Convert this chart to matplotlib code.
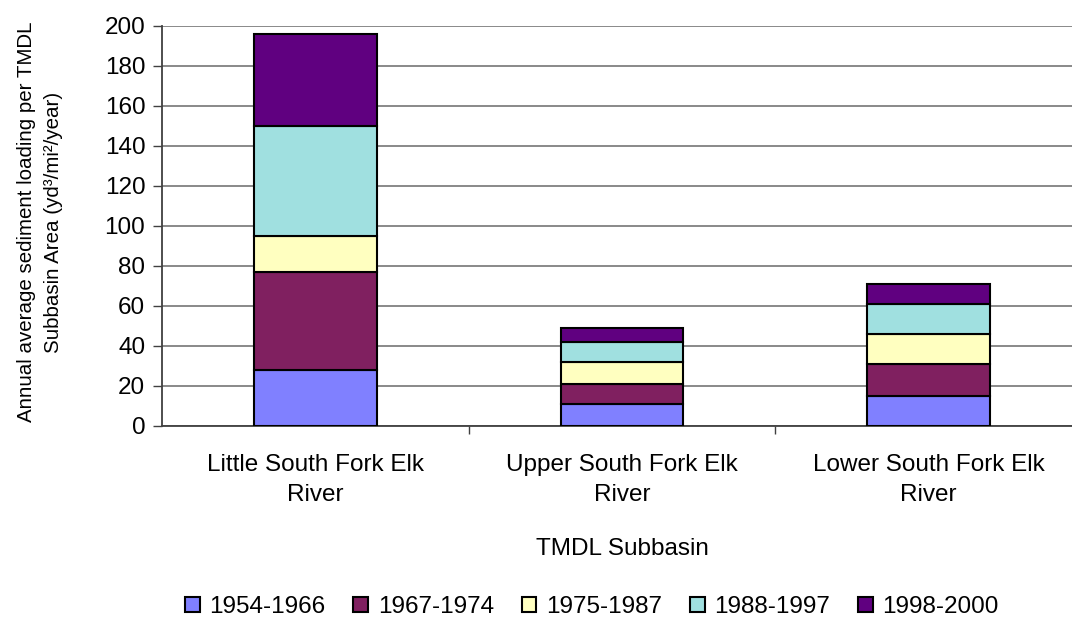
import matplotlib
matplotlib.use("Agg")
import matplotlib.pyplot as plt
import numpy as np

plt.rcParams['font.family'] = ['Liberation Sans', 'DejaVu Sans']

categories = ["Little South Fork Elk\nRiver", "Upper South Fork Elk\nRiver", "Lower South Fork Elk\nRiver"]
periods = ["1954-1966", "1967-1974", "1975-1987", "1988-1997", "1998-2000"]
load_1954_1966 = [28, 11, 15]
load_1967_1974 = [49, 10, 16]
load_1975_1987 = [18, 11, 15]
load_1988_1997 = [55, 10, 15]
load_1998_2000 = [46, 7, 10]
series = [load_1954_1966, load_1967_1974, load_1975_1987, load_1988_1997, load_1998_2000]
colors = ["#8080FF", "#802060", "#FFFFC0", "#A0E0E0", "#600080"]
yticks = [0, 20, 40, 60, 80, 100, 120, 140, 160, 180, 200]

W, H = 1072, 619
fig = plt.figure(figsize=(W / 100, H / 100), dpi=100)
ax = fig.add_axes([162 / W, 1 - 426 / H, (1082 - 162) / W, 400 / H])

x = np.arange(len(categories))
bottom = np.zeros(len(categories))
handles = []
for vals, col, lab in zip(series, colors, periods):
    h = ax.bar(x, vals, width=0.4, bottom=bottom, color=col, edgecolor="black",
               linewidth=1.5, label=lab, zorder=3)
    handles.append(h)
    bottom += np.array(vals)

ax.set_xlim(-0.5, len(categories) - 0.5)
ax.set_ylim(0, 200)
ax.set_yticks(yticks)
ax.yaxis.grid(True, color="#808080", linewidth=1.3, zorder=0)
ax.set_axisbelow(True)

ax.set_xticks(x)
ax.set_xticklabels(categories, fontsize=17.5, linespacing=1.5)
ax.set_xticks([0.5, 1.5], minor=True)
ax.tick_params(axis="x", which="major", length=0, pad=20)
ax.tick_params(axis="x", which="minor", length=6, width=1, color="#404040")
ax.tick_params(axis="y", length=6.5, width=1, color="#404040", labelsize=17.5, pad=5.5)

for s in ["top", "right"]:
    ax.spines[s].set_visible(False)
for s in ["left", "bottom"]:
    ax.spines[s].set_color("#404040")
    ax.spines[s].set_linewidth(1.3)

fig.text(622 / W, 1 - 549 / H, "TMDL Subbasin", fontsize=17.5, ha="center", va="center")
fig.text(40 / W, 1 - 222 / H,
         "Annual average sediment loading per TMDL\nSubbasin Area (yd\u00b3/mi\u00b2/year)",
         fontsize=14.8, rotation=90, ha="center", va="center",
         multialignment="center", linespacing=1.55)

fig.legend(handles=handles, labels=periods, loc="center", bbox_to_anchor=(592 / W, 1 - 607 / H),
           ncol=5, frameon=False, fontsize=17.5, handlelength=0.6, handleheight=0.6,
           handletextpad=0.4, columnspacing=1.15, borderpad=0, borderaxespad=0)

fig.savefig("out.png", dpi=100)
